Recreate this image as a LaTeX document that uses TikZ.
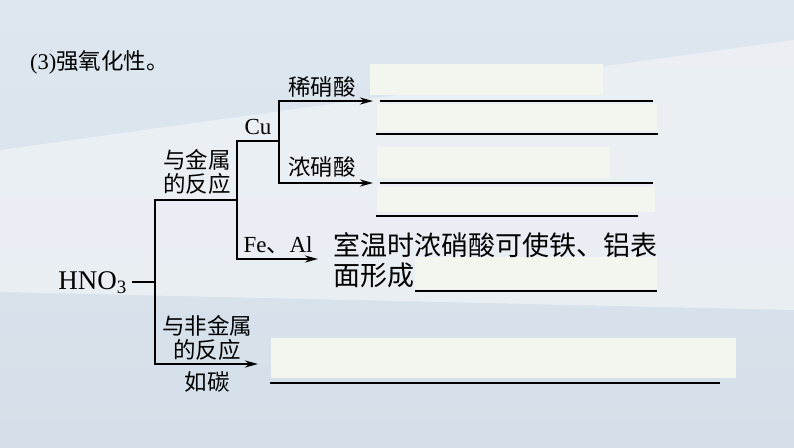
\documentclass[tikz,border=0pt]{standalone}
\usepackage{fontspec}
\setmainfont{Liberation Serif}
\newfontfamily\cjk{Noto Sans CJK SC}
\usetikzlibrary{arrows.meta}
\definecolor{bgtop}{RGB}{222,231,239}
\definecolor{bgbot}{RGB}{212,223,233}
\definecolor{bgband}{RGB}{240,243,247}
\definecolor{blankfill}{RGB}{243,246,238}
\tikzset{
  lbl/.style={inner sep=0pt, font=\fontsize{22.5}{25}\selectfont\cjk, text=black},
  latin/.style={inner sep=0pt, font=\fontsize{23}{26}\selectfont\rmfamily, text=black},
  big/.style={inner sep=0pt, font=\fontsize{27}{30}\selectfont\cjk, text=black, anchor=west},
  tree/.style={line width=2.2pt, black},
  arr/.style={tree, -{Stealth[length=13pt,width=7pt]}},
  blank/.style={fill=blankfill, draw=none},
  ansline/.style={line width=2.6pt, black}
}
\begin{document}
\begin{tikzpicture}[x=1pt,y=-1pt]
% background
\shade[top color=bgtop, bottom color=bgbot] (0,0) rectangle (794,447);
\fill[bgband, opacity=0.75] (0,150) -- (794,40) -- (794,310) -- (0,292) -- cycle;
\useasboundingbox (0,0) rectangle (794,447);

% title
\node[anchor=west, inner sep=0pt, font=\fontsize{22.5}{25}\selectfont] (title) at (30,62) {(3){\cjk 强氧化性。}};

% pale answer boxes
\fill[blank] (370,64) rectangle (603,95);
\fill[blank] (377,104) rectangle (657,131);
\fill[blank] (377,147) rectangle (610,178);
\fill[blank] (377,187) rectangle (655,212);
\fill[blank] (415,257) rectangle (657,289);
\fill[blank] (271,338) rectangle (736,378);

% answer lines
\coordinate (l1a) at (380,101); \coordinate (l1b) at (653,101);
\coordinate (l2a) at (376,134); \coordinate (l2b) at (658,134);
\coordinate (l3a) at (380,183); \coordinate (l3b) at (653,183);
\coordinate (l4a) at (376,216); \coordinate (l4b) at (638,216);
\coordinate (l5a) at (415,291); \coordinate (l5b) at (657,291);
\coordinate (l6a) at (270,383); \coordinate (l6b) at (720,383);
\draw[ansline] (l1a) -- (l1b);
\draw[ansline] (l2a) -- (l2b);
\draw[ansline] (l3a) -- (l3b);
\draw[ansline] (l4a) -- (l4b);
\draw[ansline] (l5a) -- (l5b);
\draw[ansline] (l6a) -- (l6b);

% root
\node[anchor=east, inner sep=0pt, font=\fontsize{27}{30}\selectfont\rmfamily] (hno3) at (127,283) {HNO\textsubscript{3}};
\coordinate (root) at (155,282);
\coordinate (trunkTop) at (155,200);
\coordinate (trunkBot) at (155,364);
\coordinate (metal) at (237,200);
\coordinate (metalTop) at (237,141);
\coordinate (metalBot) at (237,259);
\coordinate (cu) at (279,141);
\coordinate (cuTop) at (279,101);
\coordinate (cuBot) at (279,183);
\coordinate (dilEnd) at (373,101);
\coordinate (concEnd) at (373,183);
\coordinate (feEnd) at (318,259);
\coordinate (cEnd) at (258,364);

\draw[tree] ([xshift=5pt]hno3.east |- root) -- (root);
\draw[tree, line cap=rect] (trunkTop) -- (trunkBot);
\draw[tree] (trunkTop) -- (metal);
\draw[tree, line cap=rect] (metalTop) -- (metalBot);
\draw[tree] (metalTop) -- (cu);
\draw[tree, line cap=rect] (cuTop) -- (cuBot);
\draw[arr] (cuTop) -- (dilEnd);
\draw[arr] (cuBot) -- (concEnd);
\draw[arr] (metalBot) -- (feEnd);
\draw[arr] (trunkBot) -- (cEnd);

% labels
\node[lbl, align=center, font=\fontsize{22.5}{23.5}\selectfont\cjk] (metalLbl) at (197,172) {与金属\\的反应};
\node[latin] (cuLbl) at (258,127) {Cu};
\node[lbl] (dilLbl) at (322,87) {稀硝酸};
\node[lbl] (concLbl) at (322,167) {浓硝酸};
\node[latin] (feLbl) at (278,245) {Fe{\cjk 、}Al};
\node[lbl, align=center, font=\fontsize{22.5}{24}\selectfont\cjk] (nonLbl) at (207,338) {与非金属\\的反应};
\node[lbl] (cLbl) at (207,382) {如碳};

\node[big] (feText1) at (333,245) {室温时浓硝酸可使铁、铝表};
\node[big] (feText2) at (333,275) {面形成};
\end{tikzpicture}
\end{document}
